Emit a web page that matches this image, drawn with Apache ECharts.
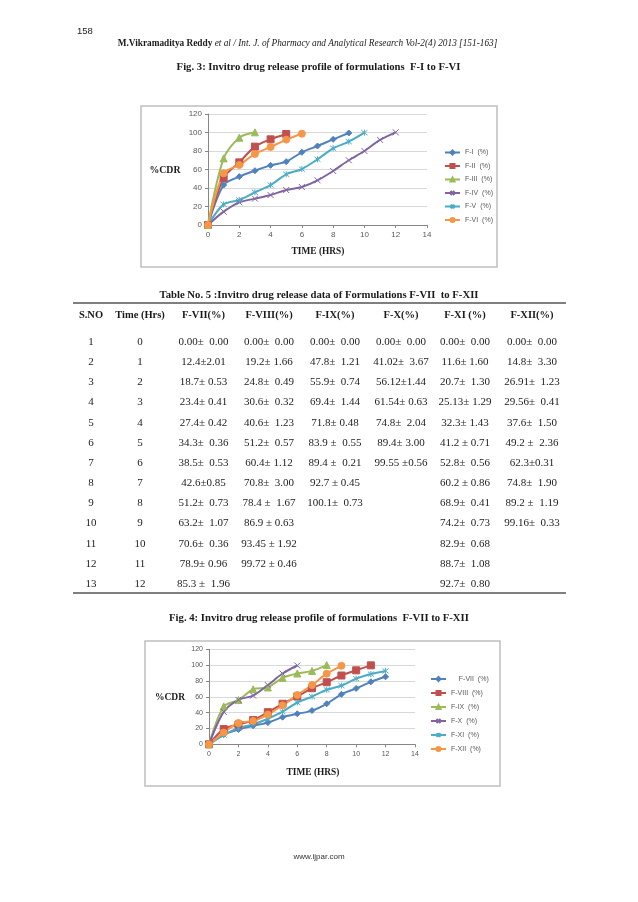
<!DOCTYPE html>
<html><head><meta charset="utf-8">
<script src="https://cdn.jsdelivr.net/npm/echarts@6/dist/echarts.min.js"></script>
<style>html,body{margin:0;padding:0;background:#fff}#c{width:638px;height:902px}</style>
</head><body><div id="c"></div>
<script>
// ---------- Data ----------
const hours = [0,1,2,3,4,5,6,7,8,9,10,11,12];
const xTicks = [0,2,4,6,8,10,12,14];
const yTicks = [0,20,40,60,80,100,120];

// Fig. 3
const fig3Names = ['F-I  (%)','F-II  (%)','F-III  (%)','F-IV  (%)','F-V  (%)','F-VI  (%)'];
const fI   = [0,43.2,52.3,58.7,64.5,68.5,78.6,85.4,92.6,99.5];
const fII  = [0,50.8,67.7,84.7,92.6,98.4];
const fIII = [0,72.0,94.4,100.2];
const fIV  = [0,14.4,24.5,28.5,32.4,37.8,41.1,48.3,58.4,70.0,80.0,92.0,100.2];
const fV   = [0,22.3,27.0,35.3,43.2,54.8,60.5,71.0,82.9,90.1,99.8];
const fVI  = [0,55.9,64.9,76.8,84.3,92.3,98.7];

// Fig. 4 (means from Table No. 5)
const fig4Names = ['F-VII  (%)','F-VIII  (%)','F-IX  (%)','F-X  (%)','F-XI  (%)','F-XII  (%)'];
const fVII  = [0,12.4,18.7,23.4,27.4,34.3,38.5,42.6,51.2,63.2,70.6,78.9,85.3];
const fVIII = [0,19.2,24.8,30.6,40.6,51.2,60.4,70.8,78.4,86.9,93.45,99.72];
const fIX   = [0,47.8,55.9,69.4,71.8,83.9,89.4,92.7,100.1];
const fX    = [0,41.02,56.12,61.54,74.8,89.4,99.55];
const fXI   = [0,11.6,20.7,25.13,32.3,41.2,52.8,60.2,68.9,74.2,82.9,88.7,92.7];
const fXII  = [0,14.8,26.91,29.56,37.6,49.2,62.3,74.8,89.2,99.16];

// Table No. 5 text
const tableHeaders = ['S.NO','Time (Hrs)','F-VII(%)','F-VIII(%)','F-IX(%)','F-X(%)','F-XI (%)','F-XII(%)'];
const colSno  = ['1','2','3','4','5','6','7','8','9','10','11','12','13'];
const colTime = ['0','1','2','3','4','5','6','7','8','9','10','11','12'];
const colFVII  = ['0.00±  0.00','12.4±2.01','18.7± 0.53','23.4± 0.41','27.4± 0.42','34.3±  0.36','38.5±  0.53','42.6±0.85','51.2±  0.73','63.2±  1.07','70.6±  0.36','78.9± 0.96','85.3 ±  1.96'];
const colFVIII = ['0.00±  0.00','19.2± 1.66','24.8±  0.49','30.6±  0.32','40.6±  1.23','51.2±  0.57','60.4± 1.12','70.8±  3.00','78.4 ±  1.67','86.9 ± 0.63','93.45 ± 1.92','99.72 ± 0.46',''];
const colFIX   = ['0.00±  0.00','47.8±  1.21','55.9±  0.74','69.4±  1.44','71.8± 0.48','83.9 ±  0.55','89.4 ±  0.21','92.7 ± 0.45','100.1±  0.73','','','',''];
const colFX    = ['0.00±  0.00','41.02±  3.67','56.12±1.44','61.54± 0.63','74.8±  2.04','89.4± 3.00','99.55 ±0.56','','','','','',''];
const colFXI   = ['0.00±  0.00','11.6± 1.60','20.7±  1.30','25.13± 1.29','32.3± 1.43','41.2 ± 0.71','52.8±  0.56','60.2 ± 0.86','68.9±  0.41','74.2±  0.73','82.9±  0.68','88.7±  1.08','92.7±  0.80'];
const colFXII  = ['0.00±  0.00','14.8±  3.30','26.91±  1.23','29.56±  0.41','37.6±  1.50','49.2 ±  2.36','62.3±0.31','74.8±  1.90','89.2 ±  1.19','99.16±  0.33','','',''];

const pageNo = '158';
const runHeadA = 'M.Vikramaditya Reddy ';
const runHeadB = 'et al / Int. J. of Pharmacy and Analytical Research Vol-2(4) 2013 [151-163]';
const fig3Title = 'Fig. 3: Invitro drug release profile of formulations  F-I to F-VI';
const tableTitle = 'Table No. 5 :Invitro drug release data of Formulations F-VII  to F-XII';
const fig4Title = 'Fig. 4: Invitro drug release profile of formulations  F-VII to F-XII';
const yName = '%CDR';
const xName = 'TIME (HRS)';
const footer = 'www.ijpar.com';

// ---------- Styling ----------
const colors = ['#4F81BD','#C0504D','#9BBB59','#8064A2','#4BACC6','#F79646'];
const xPath = 'path://M0,0L10,10M10,0L0,10';
const starPath = 'path://M0,0L10,10M10,0L0,10M5,-1L5,11';
const symbols = ['diamond','rect','triangle',xPath,starPath,'circle'];
const symSizes = [6,7,7,6,6,7];
const SERIF = '"Liberation Serif","Times New Roman",serif';
const SANS = '"Liberation Sans",Arial,sans-serif';

function pts(vals){ return vals.map((v,i)=>[hours[i], v]); }

function makeSeries(names, arrays, gi){
  return arrays.map((arr,k)=>({
    name: names[k], type:'line', xAxisIndex: gi, yAxisIndex: gi,
    data: pts(arr), smooth: 0.3, symbol: symbols[k], symbolSize: symSizes[k],
    showSymbol: true,
    lineStyle:{color:colors[k], width:2},
    itemStyle:{color:colors[k], borderColor:colors[k], borderWidth:1},
    emphasis:{disabled:true}, z: 3
  }));
}

function axisPair(gi, labelSize){
  const x = {type:'value', gridIndex:gi, min:0, max:14, interval:2,
    axisLine:{show:true, onZero:false, lineStyle:{color:'#868686', width:1}},
    axisTick:{show:true, length:3, lineStyle:{color:'#868686'}},
    splitLine:{show:false},
    axisLabel:{color:'#595959', fontSize:labelSize, fontFamily:SANS, margin:6}};
  const y = {type:'value', gridIndex:gi, min:0, max:120, interval:20,
    axisLine:{show:true, lineStyle:{color:'#868686', width:1}},
    axisTick:{show:true, length:3, lineStyle:{color:'#868686'}},
    splitLine:{show:true, lineStyle:{color:'#D9D9D9', width:1}},
    axisLabel:{color:'#595959', fontSize:labelSize, fontFamily:SANS, margin:6}};
  return [x,y];
}
const [x1,y1] = axisPair(0, 8);
const [x2,y2] = axisPair(1, 7);

function txt(x,y,text,font,opts){
  opts = opts || {};
  return {type:'text', x:x, y:y, silent:true, z:10,
    style:Object.assign({text:text, font:font, fill:opts.fill||'#1a1a1a',
      textAlign:opts.align||'center', align:opts.align||'center',
      textVerticalAlign:'middle', verticalAlign:'middle'}, opts.style||{})};
}

const g = [];
// page texts
g.push(txt(77, 31, pageNo, '9.5px '+SANS, {align:'left', fill:'#222'}));
g.push({type:'text', x:307.5, y:44, silent:true, z:10, style:{
  text:'{b|'+runHeadA+'}{i|'+runHeadB+'}', textAlign:'center', align:'center',
  textVerticalAlign:'middle', verticalAlign:'middle', fill:'#1a1a1a',
  rich:{b:{font:'bold 9.3px '+SERIF, fill:'#1a1a1a'}, i:{font:'italic 9.3px '+SERIF, fill:'#1a1a1a'}}}});
g.push(txt(318.5, 67, fig3Title, 'bold 10.7px '+SERIF));
g.push(txt(319, 295, tableTitle, 'bold 10.7px '+SERIF));
g.push(txt(319, 618, fig4Title, 'bold 10.7px '+SERIF));
g.push(txt(319, 857, footer, '8px '+SANS, {fill:'#333'}));

// chart boxes
g.push({type:'rect', silent:true, z:0, shape:{x:141, y:106, width:356, height:161},
  style:{fill:'none', stroke:'#BFBFBF', lineWidth:1.5}});
g.push({type:'rect', silent:true, z:0, shape:{x:145, y:641, width:355, height:145},
  style:{fill:'none', stroke:'#BFBFBF', lineWidth:1.5}});

// axis titles
g.push(txt(165, 170, yName, 'bold 9.8px '+SERIF));
g.push(txt(318, 252, xName, 'bold 9.4px '+SERIF));
g.push(txt(170, 698, yName, 'bold 9.5px '+SERIF));
g.push(txt(313, 773, xName, 'bold 9.4px '+SERIF));

// table
g.push({type:'line', silent:true, shape:{x1:73, y1:303, x2:566, y2:303}, style:{stroke:'#555', lineWidth:1.5}});
g.push({type:'line', silent:true, shape:{x1:73, y1:593, x2:566, y2:593}, style:{stroke:'#555', lineWidth:1.5}});
const colX = [91, 140, 203.5, 269, 335, 401, 465, 532];
const cols = [colSno, colTime, colFVII, colFVIII, colFIX, colFX, colFXI, colFXII];
tableHeaders.forEach((h,c)=>g.push(txt(colX[c], 315, h, 'bold 10.5px '+SERIF)));
cols.forEach((col,c)=>col.forEach((t,r)=>{
  if(t) g.push(txt(colX[c], 342 + r*20.17, t, '11px '+SERIF, {fill:'#222'}));
}));

const legendCommon = {orient:'vertical', itemWidth:15, itemHeight:5, selectedMode:false, padding:0,
  textStyle:{color:'#595959', fontSize:7, fontFamily:SANS, lineHeight:8}};

const option = {
  animation:false,
  backgroundColor:'#fff',
  color: colors,
  grid:[
    {left:208, top:114, width:219, height:111, containLabel:false},
    {left:209, top:649.3, width:206, height:95, containLabel:false}
  ],
  xAxis:[x1,x2],
  yAxis:[y1,y2],
  legend:[
    Object.assign({}, legendCommon, {left:444, top:148.5, itemGap:5.5, data:fig3Names}),
    Object.assign({}, legendCommon, {left:430, top:675, itemGap:6, data:fig4Names,
      formatter:function(n){ return n===fig4Names[0] ? '    '+n : n; }})
  ],
  series: makeSeries(fig3Names,[fI,fII,fIII,fIV,fV,fVI],0)
    .concat(makeSeries(fig4Names,[fVII,fVIII,fIX,fX,fXI,fXII],1)),
  graphic:{elements:g}
};
const chart = echarts.init(document.getElementById('c'), null, {renderer:'canvas'});
chart.setOption(option);
</script>
</body></html>
